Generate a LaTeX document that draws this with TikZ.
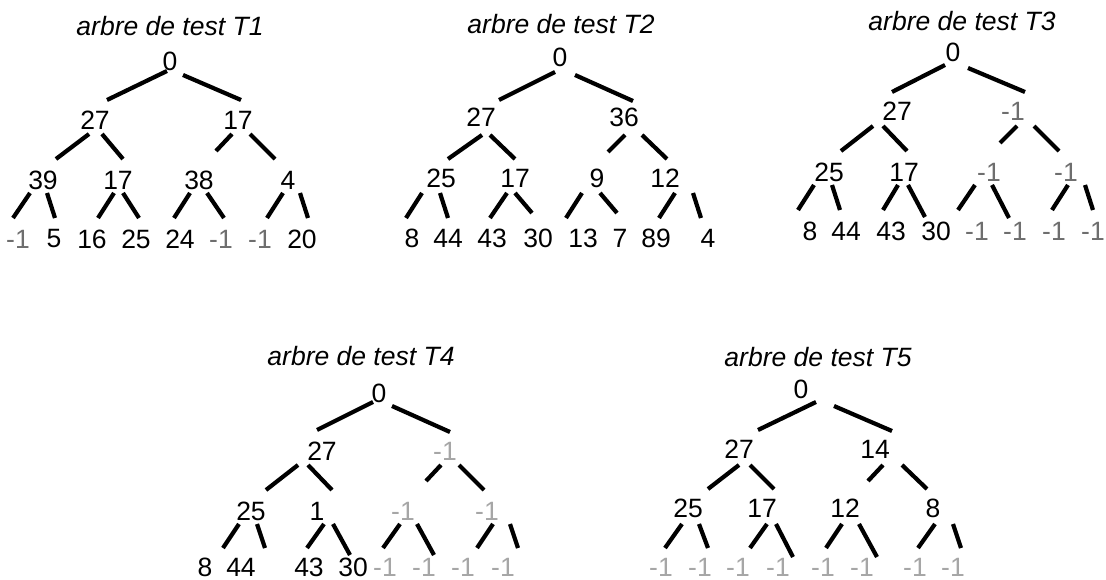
\documentclass[tikz,border=0pt]{standalone}
\usepackage{fontspec}
\setmainfont{Liberation Sans}
\usetikzlibrary{calc}
\definecolor{nilgrey}{HTML}{6E6E6E}
\definecolor{palegrey}{HTML}{A6A6A6}
\tikzset{
  num/.style={inner sep=0pt, anchor=center, font=\fontsize{26.5}{30}\selectfont},
  nil/.style={num, text=nilgrey},
  palenil/.style={num, text=palegrey},
  caption/.style={num, font=\fontsize{26.5}{30}\selectfont\itshape},
  edge/.style={line width=4.2pt, black}
}
% segment from an offset of the parent node to an offset of the child node
\newcommand\seg[4]{\draw[edge] ($(#1)+(#2)$) -- ($(#3)+(#4)$);}
\begin{document}
\begin{tikzpicture}[x=1pt, y=-1pt]
\useasboundingbox (0,0) rectangle (1106,580);

% ---------- T1 ----------
\node[caption] (t1title) at (170,26) {arbre de test T1};
\node[num] (t1r) at (170,61) {0};
\node[num] (t1a) at (95,120) {27};
\node[num] (t1b) at (238,120) {17};
\node[num] (t1aa) at (43,180) {39};
\node[num] (t1ab) at (118,180) {17};
\node[num] (t1ba) at (199,180) {38};
\node[num] (t1bb) at (288,180) {4};
\node[nil] (t1l1) at (18,239) {-1};
\node[num] (t1l2) at (54,239) {5};
\node[num] (t1l3) at (92,239) {16};
\node[num] (t1l4) at (136,239) {25};
\node[num] (t1l5) at (180,239) {24};
\node[nil] (t1l6) at (221,239) {-1};
\node[nil] (t1l7) at (260,239) {-1};
\node[num] (t1l8) at (302,239) {20};
\seg{t1r}{-3,10}{t1a}{12,-20}
\seg{t1r}{13,14}{t1b}{3,-20}
\seg{t1a}{-6,14}{t1aa}{13,-21}
\seg{t1a}{7,14}{t1ab}{5,-21}
\seg{t1b}{-6,14}{t1ba}{17,-29}
\seg{t1b}{12,14}{t1bb}{-13,-21}
\seg{t1aa}{-13,13}{t1l1}{-5,-21}
\seg{t1aa}{4,13}{t1l2}{1,-21}
\seg{t1ab}{-4,13}{t1l3}{6,-21}
\seg{t1ab}{5,13}{t1l4}{3,-21}
\seg{t1ba}{-9,13}{t1l5}{-6,-21}
\seg{t1ba}{8,13}{t1l6}{3,-21}
\seg{t1bb}{-5,13}{t1l7}{7,-21}
\seg{t1bb}{12,13}{t1l8}{6,-21}

% ---------- T2 ----------
\node[caption] (t2title) at (561,24) {arbre de test T2};
\node[num] (t2r) at (560,57) {0};
\node[num] (t2a) at (481,117) {27};
\node[num] (t2b) at (624,117) {36};
\node[num] (t2aa) at (441,178) {25};
\node[num] (t2ab) at (515,178) {17};
\node[num] (t2ba) at (597,178) {9};
\node[num] (t2bb) at (665,178) {12};
\node[num] (t2l1) at (412,238) {8};
\node[num] (t2l2) at (448,238) {44};
\node[num] (t2l3) at (492,238) {43};
\node[num] (t2l4) at (538,238) {30};
\node[num] (t2l5) at (583,238) {13};
\node[num] (t2l6) at (620,238) {7};
\node[num] (t2l7) at (656,238) {89};
\node[num] (t2l8) at (708,238) {4};
\seg{t2r}{-5,15}{t2a}{18,-17}
\seg{t2r}{15,18}{t2b}{9,-16}
\seg{t2a}{1,18}{t2aa}{7,-19}
\seg{t2a}{9,18}{t2ab}{0,-19}
\seg{t2b}{1,18}{t2ba}{11,-26}
\seg{t2b}{18,18}{t2bb}{2,-19}
\seg{t2aa}{-19,15}{t2l1}{-6,-20}
\seg{t2aa}{-1,15}{t2l2}{0,-20}
\seg{t2ab}{-8,15}{t2l3}{-2,-20}
\seg{t2ab}{0,15}{t2l4}{-6,-25}
\seg{t2ba}{-15,15}{t2l5}{-17,-20}
\seg{t2ba}{3,15}{t2l6}{-3,-25}
\seg{t2bb}{10,15}{t2l7}{3,-20}
\seg{t2bb}{28,15}{t2l8}{-7,-20}

% ---------- T3 ----------
\node[caption] (t3title) at (962,21) {arbre de test T3};
\node[num] (t3r) at (953,52) {0};
\node[num] (t3a) at (897,111) {27};
\node[nil] (t3b) at (1013,111) {-1};
\node[num] (t3aa) at (829,172) {25};
\node[num] (t3ab) at (904,172) {17};
\node[nil] (t3ba) at (989,172) {-1};
\node[nil] (t3bb) at (1066,172) {-1};
\node[num] (t3l1) at (810,231) {8};
\node[num] (t3l2) at (846,231) {44};
\node[num] (t3l3) at (891,231) {43};
\node[num] (t3l4) at (936,231) {30};
\node[nil] (t3l5) at (977,231) {-1};
\node[nil] (t3l6) at (1015,231) {-1};
\node[nil] (t3l7) at (1054,231) {-1};
\node[nil] (t3l8) at (1093,231) {-1};
\seg{t3r}{-8,13}{t3a}{-5,-19}
\seg{t3r}{15,16}{t3b}{12,-19}
\seg{t3a}{-24,15}{t3aa}{12,-21}
\seg{t3a}{-14,15}{t3ab}{3,-21}
\seg{t3b}{4,15}{t3ba}{11,-29}
\seg{t3b}{21,15}{t3bb}{-7,-21}
\seg{t3aa}{-15,13}{t3l1}{-12,-21}
\seg{t3aa}{3,13}{t3l2}{-6,-21}
\seg{t3ab}{-6,13}{t3l3}{-8,-21}
\seg{t3ab}{4,13}{t3l4}{-11,-14}
\seg{t3ba}{-14,13}{t3l5}{-19,-21}
\seg{t3ba}{3,13}{t3l6}{-6,-13}
\seg{t3bb}{2,13}{t3l7}{-2,-21}
\seg{t3bb}{19,13}{t3l8}{0,-21}

% ---------- T4 ----------
\node[caption] (t4title) at (361,356) {arbre de test T4};
\node[num] (t4r) at (379,393) {0};
\node[num] (t4a) at (322,451) {27};
\node[palenil] (t4b) at (445,451) {-1};
\node[num] (t4aa) at (251,511) {25};
\node[num] (t4ab) at (317,511) {1};
\node[palenil] (t4ba) at (403,511) {-1};
\node[palenil] (t4bb) at (487,511) {-1};
\node[num] (t4l1) at (205,567) {8};
\node[num] (t4l2) at (241,567) {44};
\node[num] (t4l3) at (309,567) {43};
\node[num] (t4l4) at (353,567) {30};
\node[palenil] (t4l5) at (385,567) {-1};
\node[palenil] (t4l6) at (424,567) {-1};
\node[palenil] (t4l7) at (463,567) {-1};
\node[palenil] (t4l8) at (503,567) {-1};
\seg{t4r}{-6,9}{t4a}{-5,-21}
\seg{t4r}{13,13}{t4b}{5,-19}
\seg{t4a}{-24,14}{t4aa}{15,-21}
\seg{t4a}{-14,14}{t4ab}{15,-21}
\seg{t4b}{-4,14}{t4ba}{23,-30}
\seg{t4b}{14,14}{t4bb}{-3,-21}
\seg{t4aa}{-12,13}{t4l1}{18,-19}
\seg{t4aa}{6,13}{t4l2}{24,-19}
\seg{t4ab}{7,13}{t4l3}{-2,-19}
\seg{t4ab}{16,13}{t4l4}{-3,-12}
\seg{t4ba}{-3,13}{t4l5}{-2,-19}
\seg{t4ba}{14,13}{t4l6}{10,-12}
\seg{t4bb}{6,13}{t4l7}{14,-19}
\seg{t4bb}{23,13}{t4l8}{15,-19}

% ---------- T5 ----------
\node[caption] (t5title) at (818,357) {arbre de test T5};
\node[num] (t5r) at (801,389) {0};
\node[num] (t5a) at (739,449) {27};
\node[num] (t5b) at (875,449) {14};
\node[num] (t5aa) at (688,508) {25};
\node[num] (t5ab) at (762,508) {17};
\node[num] (t5ba) at (845,508) {12};
\node[num] (t5bb) at (933,508) {8};
\node[palenil] (t5l1) at (661,567) {-1};
\node[palenil] (t5l2) at (700,567) {-1};
\node[palenil] (t5l3) at (738,567) {-1};
\node[palenil] (t5l4) at (778,567) {-1};
\node[palenil] (t5l5) at (823,567) {-1};
\node[palenil] (t5l6) at (862,567) {-1};
\node[palenil] (t5l7) at (915,567) {-1};
\node[palenil] (t5l8) at (953,567) {-1};
\seg{t5r}{15,13}{t5a}{19,-19}
\seg{t5r}{33,17}{t5b}{17,-18}
\seg{t5a}{0,16}{t5aa}{20,-19}
\seg{t5a}{11,16}{t5ab}{12,-19}
\seg{t5b}{8,16}{t5ba}{23,-27}
\seg{t5b}{27,16}{t5bb}{-6,-19}
\seg{t5aa}{-6,16}{t5l1}{4,-19}
\seg{t5aa}{11,16}{t5l2}{8,-19}
\seg{t5ab}{5,16}{t5l3}{12,-19}
\seg{t5ab}{14,16}{t5l4}{15,-10}
\seg{t5ba}{-3,16}{t5l5}{3,-19}
\seg{t5ba}{14,16}{t5l6}{15,-10}
\seg{t5bb}{2,16}{t5l7}{3,-19}
\seg{t5bb}{20,16}{t5l8}{8,-19}
\end{tikzpicture}
\end{document}
